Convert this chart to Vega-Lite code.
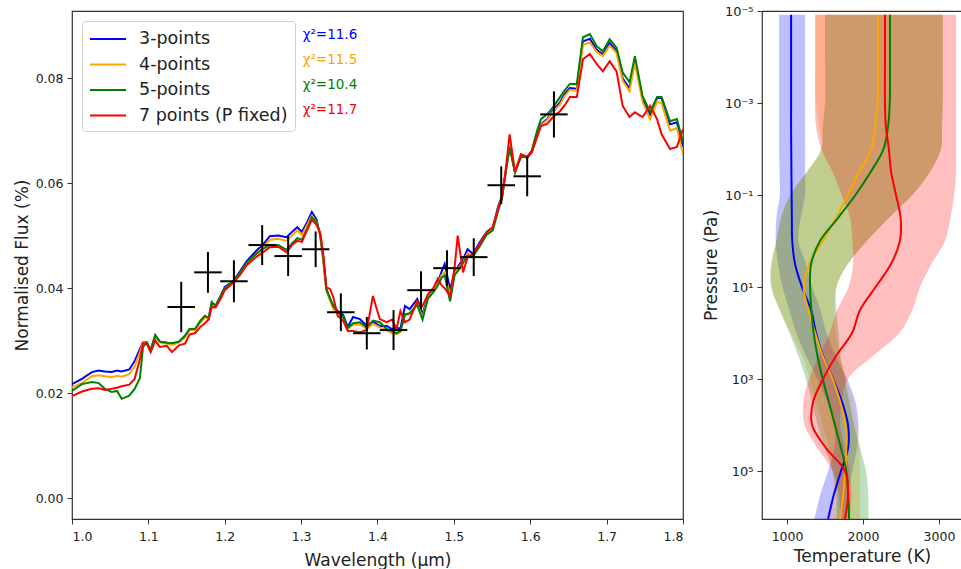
{
"$schema": "https://vega.github.io/schema/vega-lite/v6.json",
"background": "white",
"padding": {"left": 12, "top": 4, "right": 0, "bottom": 0},
"bounds": "flush",
"spacing": 79,
"datasets": {
"spectra": [
{"wl":1.000,"3-points":0.0217,"4-points":0.0211,"5-points":0.0204,"7 points (P fixed)":0.0194},
{"wl":1.013,"3-points":0.0227,"4-points":0.0219,"5-points":0.0217,"7 points (P fixed)":0.0203},
{"wl":1.026,"3-points":0.0240,"4-points":0.0232,"5-points":0.0221,"7 points (P fixed)":0.0208},
{"wl":1.035,"3-points":0.0243,"4-points":0.0234,"5-points":0.0219,"7 points (P fixed)":0.0209},
{"wl":1.043,"3-points":0.0241,"4-points":0.0232,"5-points":0.0208,"7 points (P fixed)":0.0206},
{"wl":1.052,"3-points":0.0240,"4-points":0.0230,"5-points":0.0202,"7 points (P fixed)":0.0208},
{"wl":1.059,"3-points":0.0243,"4-points":0.0233,"5-points":0.0204,"7 points (P fixed)":0.0210},
{"wl":1.065,"3-points":0.0241,"4-points":0.0231,"5-points":0.0189,"7 points (P fixed)":0.0213},
{"wl":1.075,"3-points":0.0245,"4-points":0.0236,"5-points":0.0195,"7 points (P fixed)":0.0216},
{"wl":1.082,"3-points":0.0261,"4-points":0.0251,"5-points":0.0208,"7 points (P fixed)":0.0227},
{"wl":1.089,"3-points":0.0284,"4-points":0.0278,"5-points":0.0229,"7 points (P fixed)":0.0265},
{"wl":1.093,"3-points":0.0297,"4-points":0.0297,"5-points":0.0288,"7 points (P fixed)":0.0295},
{"wl":1.098,"3-points":0.0297,"4-points":0.0296,"5-points":0.0296,"7 points (P fixed)":0.0294},
{"wl":1.103,"3-points":0.0281,"4-points":0.0282,"5-points":0.0282,"7 points (P fixed)":0.0278},
{"wl":1.109,"3-points":0.0310,"4-points":0.0308,"5-points":0.0310,"7 points (P fixed)":0.0300},
{"wl":1.115,"3-points":0.0298,"4-points":0.0296,"5-points":0.0298,"7 points (P fixed)":0.0288},
{"wl":1.124,"3-points":0.0296,"4-points":0.0294,"5-points":0.0296,"7 points (P fixed)":0.0290},
{"wl":1.131,"3-points":0.0294,"4-points":0.0292,"5-points":0.0295,"7 points (P fixed)":0.0278},
{"wl":1.140,"3-points":0.0298,"4-points":0.0296,"5-points":0.0298,"7 points (P fixed)":0.0291},
{"wl":1.148,"3-points":0.0309,"4-points":0.0306,"5-points":0.0309,"7 points (P fixed)":0.0294},
{"wl":1.154,"3-points":0.0322,"4-points":0.0320,"5-points":0.0322,"7 points (P fixed)":0.0312},
{"wl":1.161,"3-points":0.0321,"4-points":0.0320,"5-points":0.0322,"7 points (P fixed)":0.0314},
{"wl":1.168,"3-points":0.0337,"4-points":0.0334,"5-points":0.0337,"7 points (P fixed)":0.0326},
{"wl":1.174,"3-points":0.0347,"4-points":0.0344,"5-points":0.0347,"7 points (P fixed)":0.0333},
{"wl":1.179,"3-points":0.0343,"4-points":0.0341,"5-points":0.0343,"7 points (P fixed)":0.0340},
{"wl":1.183,"3-points":0.0373,"4-points":0.0370,"5-points":0.0373,"7 points (P fixed)":0.0364},
{"wl":1.188,"3-points":0.0366,"4-points":0.0364,"5-points":0.0366,"7 points (P fixed)":0.0363},
{"wl":1.194,"3-points":0.0383,"4-points":0.0381,"5-points":0.0383,"7 points (P fixed)":0.0378},
{"wl":1.200,"3-points":0.0402,"4-points":0.0400,"5-points":0.0400,"7 points (P fixed)":0.0396},
{"wl":1.211,"3-points":0.0413,"4-points":0.0411,"5-points":0.0413,"7 points (P fixed)":0.0410},
{"wl":1.220,"3-points":0.0432,"4-points":0.0428,"5-points":0.0430,"7 points (P fixed)":0.0425},
{"wl":1.229,"3-points":0.0452,"4-points":0.0447,"5-points":0.0449,"7 points (P fixed)":0.0444},
{"wl":1.242,"3-points":0.0472,"4-points":0.0466,"5-points":0.0466,"7 points (P fixed)":0.0460},
{"wl":1.249,"3-points":0.0481,"4-points":0.0476,"5-points":0.0474,"7 points (P fixed)":0.0467},
{"wl":1.259,"3-points":0.0499,"4-points":0.0492,"5-points":0.0482,"7 points (P fixed)":0.0478},
{"wl":1.270,"3-points":0.0500,"4-points":0.0494,"5-points":0.0482,"7 points (P fixed)":0.0479},
{"wl":1.281,"3-points":0.0497,"4-points":0.0490,"5-points":0.0473,"7 points (P fixed)":0.0468},
{"wl":1.288,"3-points":0.0507,"4-points":0.0500,"5-points":0.0485,"7 points (P fixed)":0.0482},
{"wl":1.295,"3-points":0.0516,"4-points":0.0510,"5-points":0.0495,"7 points (P fixed)":0.0490},
{"wl":1.301,"3-points":0.0507,"4-points":0.0501,"5-points":0.0492,"7 points (P fixed)":0.0488},
{"wl":1.308,"3-points":0.0526,"4-points":0.0521,"5-points":0.0513,"7 points (P fixed)":0.0511},
{"wl":1.314,"3-points":0.0545,"4-points":0.0538,"5-points":0.0535,"7 points (P fixed)":0.0530},
{"wl":1.320,"3-points":0.0531,"4-points":0.0527,"5-points":0.0527,"7 points (P fixed)":0.0521},
{"wl":1.325,"3-points":0.0500,"4-points":0.0498,"5-points":0.0503,"7 points (P fixed)":0.0505},
{"wl":1.329,"3-points":0.0455,"4-points":0.0452,"5-points":0.0458,"7 points (P fixed)":0.0465},
{"wl":1.333,"3-points":0.0398,"4-points":0.0395,"5-points":0.0398,"7 points (P fixed)":0.0402},
{"wl":1.338,"3-points":0.0379,"4-points":0.0375,"5-points":0.0380,"7 points (P fixed)":0.0398},
{"wl":1.342,"3-points":0.0366,"4-points":0.0360,"5-points":0.0366,"7 points (P fixed)":0.0383},
{"wl":1.348,"3-points":0.0356,"4-points":0.0350,"5-points":0.0355,"7 points (P fixed)":0.0347},
{"wl":1.355,"3-points":0.0349,"4-points":0.0342,"5-points":0.0346,"7 points (P fixed)":0.0338},
{"wl":1.361,"3-points":0.0326,"4-points":0.0322,"5-points":0.0324,"7 points (P fixed)":0.0318},
{"wl":1.368,"3-points":0.0345,"4-points":0.0330,"5-points":0.0333,"7 points (P fixed)":0.0318},
{"wl":1.377,"3-points":0.0341,"4-points":0.0331,"5-points":0.0335,"7 points (P fixed)":0.0316},
{"wl":1.386,"3-points":0.0328,"4-points":0.0322,"5-points":0.0325,"7 points (P fixed)":0.0320},
{"wl":1.394,"3-points":0.0336,"4-points":0.0332,"5-points":0.0338,"7 points (P fixed)":0.0385},
{"wl":1.403,"3-points":0.0328,"4-points":0.0325,"5-points":0.0335,"7 points (P fixed)":0.0341},
{"wl":1.412,"3-points":0.0328,"4-points":0.0320,"5-points":0.0322,"7 points (P fixed)":0.0335},
{"wl":1.419,"3-points":0.0322,"4-points":0.0314,"5-points":0.0318,"7 points (P fixed)":0.0340},
{"wl":1.425,"3-points":0.0325,"4-points":0.0312,"5-points":0.0314,"7 points (P fixed)":0.0322},
{"wl":1.430,"3-points":0.0322,"4-points":0.0316,"5-points":0.0318,"7 points (P fixed)":0.0356},
{"wl":1.436,"3-points":0.0366,"4-points":0.0348,"5-points":0.0350,"7 points (P fixed)":0.0335},
{"wl":1.442,"3-points":0.0360,"4-points":0.0350,"5-points":0.0352,"7 points (P fixed)":0.0340},
{"wl":1.452,"3-points":0.0379,"4-points":0.0370,"5-points":0.0368,"7 points (P fixed)":0.0375},
{"wl":1.459,"3-points":0.0350,"4-points":0.0345,"5-points":0.0340,"7 points (P fixed)":0.0366},
{"wl":1.466,"3-points":0.0385,"4-points":0.0382,"5-points":0.0380,"7 points (P fixed)":0.0388},
{"wl":1.473,"3-points":0.0398,"4-points":0.0395,"5-points":0.0392,"7 points (P fixed)":0.0400},
{"wl":1.479,"3-points":0.0411,"4-points":0.0408,"5-points":0.0405,"7 points (P fixed)":0.0418},
{"wl":1.484,"3-points":0.0432,"4-points":0.0425,"5-points":0.0420,"7 points (P fixed)":0.0405},
{"wl":1.488,"3-points":0.0446,"4-points":0.0430,"5-points":0.0424,"7 points (P fixed)":0.0400},
{"wl":1.495,"3-points":0.0398,"4-points":0.0385,"5-points":0.0375,"7 points (P fixed)":0.0385},
{"wl":1.501,"3-points":0.0430,"4-points":0.0428,"5-points":0.0425,"7 points (P fixed)":0.0440},
{"wl":1.505,"3-points":0.0440,"4-points":0.0436,"5-points":0.0432,"7 points (P fixed)":0.0500},
{"wl":1.512,"3-points":0.0455,"4-points":0.0450,"5-points":0.0448,"7 points (P fixed)":0.0430},
{"wl":1.518,"3-points":0.0474,"4-points":0.0466,"5-points":0.0462,"7 points (P fixed)":0.0459},
{"wl":1.525,"3-points":0.0465,"4-points":0.0462,"5-points":0.0460,"7 points (P fixed)":0.0465},
{"wl":1.534,"3-points":0.0488,"4-points":0.0484,"5-points":0.0480,"7 points (P fixed)":0.0484},
{"wl":1.543,"3-points":0.0507,"4-points":0.0505,"5-points":0.0502,"7 points (P fixed)":0.0507},
{"wl":1.551,"3-points":0.0516,"4-points":0.0514,"5-points":0.0510,"7 points (P fixed)":0.0516},
{"wl":1.558,"3-points":0.0556,"4-points":0.0552,"5-points":0.0548,"7 points (P fixed)":0.0552},
{"wl":1.563,"3-points":0.0575,"4-points":0.0572,"5-points":0.0570,"7 points (P fixed)":0.0575},
{"wl":1.567,"3-points":0.0613,"4-points":0.0612,"5-points":0.0612,"7 points (P fixed)":0.0615},
{"wl":1.573,"3-points":0.0670,"4-points":0.0672,"5-points":0.0668,"7 points (P fixed)":0.0693},
{"wl":1.580,"3-points":0.0621,"4-points":0.0621,"5-points":0.0621,"7 points (P fixed)":0.0621},
{"wl":1.588,"3-points":0.0655,"4-points":0.0655,"5-points":0.0650,"7 points (P fixed)":0.0655},
{"wl":1.596,"3-points":0.0648,"4-points":0.0650,"5-points":0.0650,"7 points (P fixed)":0.0650},
{"wl":1.602,"3-points":0.0659,"4-points":0.0660,"5-points":0.0662,"7 points (P fixed)":0.0659},
{"wl":1.609,"3-points":0.0692,"4-points":0.0690,"5-points":0.0700,"7 points (P fixed)":0.0688},
{"wl":1.614,"3-points":0.0712,"4-points":0.0710,"5-points":0.0722,"7 points (P fixed)":0.0709},
{"wl":1.622,"3-points":0.0722,"4-points":0.0720,"5-points":0.0731,"7 points (P fixed)":0.0713},
{"wl":1.630,"3-points":0.0739,"4-points":0.0736,"5-points":0.0745,"7 points (P fixed)":0.0726},
{"wl":1.639,"3-points":0.0754,"4-points":0.0750,"5-points":0.0764,"7 points (P fixed)":0.0737},
{"wl":1.645,"3-points":0.0770,"4-points":0.0766,"5-points":0.0777,"7 points (P fixed)":0.0748},
{"wl":1.652,"3-points":0.0781,"4-points":0.0778,"5-points":0.0789,"7 points (P fixed)":0.0764},
{"wl":1.661,"3-points":0.0780,"4-points":0.0776,"5-points":0.0789,"7 points (P fixed)":0.0764},
{"wl":1.669,"3-points":0.0870,"4-points":0.0864,"5-points":0.0878,"7 points (P fixed)":0.0836},
{"wl":1.678,"3-points":0.0875,"4-points":0.0868,"5-points":0.0884,"7 points (P fixed)":0.0846},
{"wl":1.687,"3-points":0.0854,"4-points":0.0850,"5-points":0.0861,"7 points (P fixed)":0.0827},
{"wl":1.695,"3-points":0.0845,"4-points":0.0842,"5-points":0.0851,"7 points (P fixed)":0.0813},
{"wl":1.704,"3-points":0.0867,"4-points":0.0862,"5-points":0.0874,"7 points (P fixed)":0.0832},
{"wl":1.713,"3-points":0.0852,"4-points":0.0848,"5-points":0.0858,"7 points (P fixed)":0.0813},
{"wl":1.721,"3-points":0.0800,"4-points":0.0795,"5-points":0.0811,"7 points (P fixed)":0.0747},
{"wl":1.730,"3-points":0.0780,"4-points":0.0775,"5-points":0.0792,"7 points (P fixed)":0.0726},
{"wl":1.737,"3-points":0.0835,"4-points":0.0830,"5-points":0.0842,"7 points (P fixed)":0.0735},
{"wl":1.747,"3-points":0.0760,"4-points":0.0755,"5-points":0.0766,"7 points (P fixed)":0.0726},
{"wl":1.757,"3-points":0.0730,"4-points":0.0722,"5-points":0.0735,"7 points (P fixed)":0.0747},
{"wl":1.766,"3-points":0.0762,"4-points":0.0755,"5-points":0.0764,"7 points (P fixed)":0.0722},
{"wl":1.772,"3-points":0.0762,"4-points":0.0752,"5-points":0.0764,"7 points (P fixed)":0.0693},
{"wl":1.783,"3-points":0.0712,"4-points":0.0700,"5-points":0.0718,"7 points (P fixed)":0.0665},
{"wl":1.792,"3-points":0.0716,"4-points":0.0705,"5-points":0.0722,"7 points (P fixed)":0.0669},
{"wl":1.800,"3-points":0.0670,"4-points":0.0655,"5-points":0.0678,"7 points (P fixed)":0.0703}
],
"obs": [
{"wl":1.143,"flux":0.0364,"wlerr":0.018,"ferr":0.0048},
{"wl":1.178,"flux":0.0430,"wlerr":0.018,"ferr":0.0039},
{"wl":1.212,"flux":0.0413,"wlerr":0.018,"ferr":0.0040},
{"wl":1.249,"flux":0.0482,"wlerr":0.018,"ferr":0.0038},
{"wl":1.283,"flux":0.0461,"wlerr":0.018,"ferr":0.0038},
{"wl":1.319,"flux":0.0474,"wlerr":0.018,"ferr":0.0034},
{"wl":1.352,"flux":0.0354,"wlerr":0.018,"ferr":0.0036},
{"wl":1.386,"flux":0.0314,"wlerr":0.018,"ferr":0.0031},
{"wl":1.421,"flux":0.0320,"wlerr":0.018,"ferr":0.0038},
{"wl":1.457,"flux":0.0396,"wlerr":0.018,"ferr":0.0036},
{"wl":1.491,"flux":0.0438,"wlerr":0.018,"ferr":0.0034},
{"wl":1.526,"flux":0.0459,"wlerr":0.018,"ferr":0.0036},
{"wl":1.562,"flux":0.0596,"wlerr":0.018,"ferr":0.0036},
{"wl":1.596,"flux":0.0613,"wlerr":0.018,"ferr":0.0038},
{"wl":1.631,"flux":0.0731,"wlerr":0.018,"ferr":0.0044}
],
"chi": [
{"model":"3-points","label":"χ²=11.6","wl":1.302,"flux":0.0882},
{"model":"4-points","label":"χ²=11.5","wl":1.302,"flux":0.0834},
{"model":"5-points","label":"χ²=10.4","wl":1.302,"flux":0.0787},
{"model":"7 points (P fixed)","label":"χ²=11.7","wl":1.302,"flux":0.0739}
],
"tp": [
{"model":"3-points","P":1.2e-5,"T":1053,"lo":895,"hi":1237},
{"model":"3-points","P":1e-4,"T":1053,"lo":895,"hi":1237},
{"model":"3-points","P":1e-3,"T":1053,"lo":895,"hi":1237},
{"model":"3-points","P":3.162e-3,"T":1053,"lo":895,"hi":1237},
{"model":"3-points","P":1e-2,"T":1055,"lo":895,"hi":1237},
{"model":"3-points","P":3.162e-2,"T":1057,"lo":900,"hi":1238},
{"model":"3-points","P":0.1,"T":1060,"lo":905,"hi":1237},
{"model":"3-points","P":0.3162,"T":1063,"lo":860,"hi":1180},
{"model":"3-points","P":1,"T":1068,"lo":850,"hi":1150},
{"model":"3-points","P":3.162,"T":1105,"lo":880,"hi":1250},
{"model":"3-points","P":10,"T":1197,"lo":940,"hi":1330},
{"model":"3-points","P":31.62,"T":1316,"lo":1030,"hi":1440},
{"model":"3-points","P":100,"T":1382,"lo":1120,"hi":1520},
{"model":"3-points","P":316.2,"T":1474,"lo":1250,"hi":1640},
{"model":"3-points","P":1000,"T":1605,"lo":1400,"hi":1790},
{"model":"3-points","P":3162,"T":1724,"lo":1530,"hi":1900},
{"model":"3-points","P":10000,"T":1803,"lo":1620,"hi":1940},
{"model":"3-points","P":31623,"T":1803,"lo":1620,"hi":1920},
{"model":"3-points","P":100000,"T":1710,"lo":1540,"hi":1860},
{"model":"3-points","P":316228,"T":1618,"lo":1440,"hi":1800},
{"model":"3-points","P":1100000,"T":1540,"lo":1360,"hi":1760},
{"model":"4-points","P":1.2e-5,"T":2197,"lo":1380,"hi":3050},
{"model":"4-points","P":1e-4,"T":2197,"lo":1380,"hi":3050},
{"model":"4-points","P":1e-3,"T":2192,"lo":1380,"hi":3050},
{"model":"4-points","P":3.162e-3,"T":2160,"lo":1420,"hi":3040},
{"model":"4-points","P":1e-2,"T":2110,"lo":1450,"hi":3026},
{"model":"4-points","P":3.162e-2,"T":1950,"lo":1260,"hi":2880},
{"model":"4-points","P":0.1,"T":1800,"lo":1040,"hi":2650},
{"model":"4-points","P":0.3162,"T":1645,"lo":920,"hi":2340},
{"model":"4-points","P":1,"T":1470,"lo":860,"hi":2050},
{"model":"4-points","P":3.162,"T":1290,"lo":800,"hi":1800},
{"model":"4-points","P":10,"T":1220,"lo":800,"hi":1650},
{"model":"4-points","P":31.62,"T":1280,"lo":910,"hi":1620},
{"model":"4-points","P":100,"T":1370,"lo":1050,"hi":1640},
{"model":"4-points","P":316.2,"T":1470,"lo":1200,"hi":1700},
{"model":"4-points","P":1000,"T":1600,"lo":1300,"hi":1780},
{"model":"4-points","P":3162,"T":1700,"lo":1380,"hi":1860},
{"model":"4-points","P":10000,"T":1770,"lo":1470,"hi":1920},
{"model":"4-points","P":31623,"T":1780,"lo":1550,"hi":1960},
{"model":"4-points","P":100000,"T":1765,"lo":1600,"hi":1960},
{"model":"4-points","P":316228,"T":1740,"lo":1600,"hi":1960},
{"model":"4-points","P":1100000,"T":1700,"lo":1580,"hi":1960},
{"model":"5-points","P":1.2e-5,"T":2355,"lo":1500,"hi":3050},
{"model":"5-points","P":1e-4,"T":2355,"lo":1500,"hi":3050},
{"model":"5-points","P":1e-3,"T":2352,"lo":1500,"hi":3050},
{"model":"5-points","P":3.162e-3,"T":2330,"lo":1470,"hi":3040},
{"model":"5-points","P":1e-2,"T":2270,"lo":1450,"hi":3026},
{"model":"5-points","P":3.162e-2,"T":2100,"lo":1260,"hi":2880},
{"model":"5-points","P":0.1,"T":1900,"lo":1040,"hi":2650},
{"model":"5-points","P":0.3162,"T":1670,"lo":920,"hi":2340},
{"model":"5-points","P":1,"T":1434,"lo":860,"hi":2050},
{"model":"5-points","P":3.162,"T":1316,"lo":790,"hi":1800},
{"model":"5-points","P":10,"T":1303,"lo":790,"hi":1650},
{"model":"5-points","P":31.62,"T":1320,"lo":900,"hi":1650},
{"model":"5-points","P":100,"T":1350,"lo":1030,"hi":1680},
{"model":"5-points","P":316.2,"T":1400,"lo":1150,"hi":1700},
{"model":"5-points","P":1000,"T":1470,"lo":1250,"hi":1760},
{"model":"5-points","P":3162,"T":1550,"lo":1330,"hi":1820},
{"model":"5-points","P":10000,"T":1630,"lo":1400,"hi":1880},
{"model":"5-points","P":31623,"T":1710,"lo":1500,"hi":1960},
{"model":"5-points","P":100000,"T":1780,"lo":1600,"hi":2040},
{"model":"5-points","P":316228,"T":1805,"lo":1650,"hi":2070},
{"model":"5-points","P":1100000,"T":1816,"lo":1650,"hi":2070},
{"model":"7 points (P fixed)","P":1.2e-5,"T":2289,"lo":1368,"hi":3224},
{"model":"7 points (P fixed)","P":1e-4,"T":2289,"lo":1368,"hi":3224},
{"model":"7 points (P fixed)","P":1e-3,"T":2289,"lo":1368,"hi":3224},
{"model":"7 points (P fixed)","P":3.162e-3,"T":2300,"lo":1380,"hi":3224},
{"model":"7 points (P fixed)","P":1e-2,"T":2340,"lo":1450,"hi":3224},
{"model":"7 points (P fixed)","P":3.162e-2,"T":2370,"lo":1600,"hi":3224},
{"model":"7 points (P fixed)","P":0.1,"T":2434,"lo":1720,"hi":3200},
{"model":"7 points (P fixed)","P":0.3162,"T":2495,"lo":1830,"hi":3150},
{"model":"7 points (P fixed)","P":1,"T":2485,"lo":1860,"hi":3080},
{"model":"7 points (P fixed)","P":3.162,"T":2368,"lo":1870,"hi":2900},
{"model":"7 points (P fixed)","P":10,"T":2165,"lo":1810,"hi":2750},
{"model":"7 points (P fixed)","P":31.62,"T":1960,"lo":1660,"hi":2650},
{"model":"7 points (P fixed)","P":100,"T":1855,"lo":1560,"hi":2480},
{"model":"7 points (P fixed)","P":316.2,"T":1645,"lo":1420,"hi":2130},
{"model":"7 points (P fixed)","P":1000,"T":1474,"lo":1290,"hi":1800},
{"model":"7 points (P fixed)","P":3162,"T":1342,"lo":1215,"hi":1720},
{"model":"7 points (P fixed)","P":10000,"T":1329,"lo":1230,"hi":1700},
{"model":"7 points (P fixed)","P":31623,"T":1513,"lo":1400,"hi":1760},
{"model":"7 points (P fixed)","P":100000,"T":1763,"lo":1600,"hi":1820},
{"model":"7 points (P fixed)","P":316228,"T":1803,"lo":1680,"hi":1850},
{"model":"7 points (P fixed)","P":1100000,"T":1763,"lo":1700,"hi":1820}
]
},
"hconcat": [
{
"width": 611, "height": 508,
"layer": [
{"data": {"name": "spectra"},
 "transform": [{"fold": ["3-points","4-points","5-points","7 points (P fixed)"], "as": ["model","flux"]}],
 "mark": {"type": "line", "strokeWidth": 2, "clip": true},
 "encoding": {
  "x": {"field": "wl", "type": "quantitative", "title": "Wavelength (μm)", "scale": {"domain": [1.0, 1.8], "nice": false, "zero": false},
        "axis": {"values": [1.0,1.1,1.2,1.3,1.4,1.5,1.6,1.7,1.8], "format": ".1f", "labelPadding": 6, "titlePadding": 10}},
  "y": {"field": "flux", "type": "quantitative", "title": "Normalised Flux (%)", "scale": {"domain": [-0.004, 0.0928], "nice": false, "zero": false},
        "axis": {"values": [0,0.02,0.04,0.06,0.08], "format": ".2f"}},
  "color": {"field": "model", "type": "nominal",
            "scale": {"domain": ["3-points","4-points","5-points","7 points (P fixed)"], "range": ["#0000ff","#ffa500","#008000","#ff0000"]},
            "legend": {"title": null, "orient": "top-left", "offset": 10, "symbolType": "M-1.8,0H1.8", "symbolSize": 400, "symbolStrokeWidth": 2,
                       "labelFontSize": 17.5, "labelColor": "#222", "strokeColor": "#d0d0d0", "fillColor": "white", "padding": 7,
                       "cornerRadius": 3, "rowPadding": 5.5, "labelOffset": 20, "symbolOffset": 8}}
 }},
{"data": {"name": "obs"},
 "mark": {"type": "errorbar", "color": "black", "thickness": 2},
 "encoding": {
  "x": {"field": "wl", "type": "quantitative", "title": "Wavelength (μm)"},
  "y": {"field": "flux", "type": "quantitative", "title": "Normalised Flux (%)"},
  "yError": {"field": "ferr"}
 }},
{"data": {"name": "obs"},
 "mark": {"type": "errorbar", "color": "black", "thickness": 2},
 "encoding": {
  "y": {"field": "flux", "type": "quantitative", "title": "Normalised Flux (%)"},
  "x": {"field": "wl", "type": "quantitative", "title": "Wavelength (μm)"},
  "xError": {"field": "wlerr"}
 }},
{"data": {"name": "chi"},
 "mark": {"type": "text", "align": "left", "baseline": "middle", "fontSize": 13.5},
 "encoding": {
  "x": {"field": "wl", "type": "quantitative", "title": "Wavelength (μm)"},
  "y": {"field": "flux", "type": "quantitative", "title": "Normalised Flux (%)"},
  "text": {"field": "label"},
  "color": {"field": "model", "type": "nominal", "legend": null}
 }}
]
},
{
"width": 200, "height": 508,
"data": {"name": "tp"},
"layer": [
{"mark": {"type": "area", "orient": "horizontal", "opacity": 0.25, "interpolate": "catmull-rom", "clip": true},
 "encoding": {
  "y": {"field": "P", "type": "quantitative", "title": "Pressure (Pa)", "scale": {"type": "log", "domain": [1e-5, 1.1e6], "reverse": true, "nice": false},
        "axis": {"values": [1e-5,1e-3,1e-1,10,1000,100000], "labelFontSize": 13,
                 "labelExpr": "datum.value < 0.0001 ? '10⁻⁵' : datum.value < 0.01 ? '10⁻³' : datum.value < 1 ? '10⁻¹' : datum.value < 100 ? '10¹' : datum.value < 10000 ? '10³' : '10⁵'"}},
  "x": {"field": "lo", "type": "quantitative", "title": "Temperature (K)", "scale": {"domain": [670, 3303], "nice": false, "zero": false},
        "axis": {"values": [1000,2000,3000], "format": "d", "labelPadding": 6, "titlePadding": 6}},
  "x2": {"field": "hi"},
  "color": {"field": "model", "type": "nominal",
            "scale": {"domain": ["3-points","4-points","5-points","7 points (P fixed)"], "range": ["#0000ff","#ffa500","#008000","#ff0000"]},
            "legend": null}
 }},
{"mark": {"type": "line", "strokeWidth": 2, "interpolate": "catmull-rom", "clip": true},
 "encoding": {
  "y": {"field": "P", "type": "quantitative", "title": "Pressure (Pa)"},
  "x": {"field": "T", "type": "quantitative", "title": "Temperature (K)"},
  "order": {"field": "P", "type": "quantitative"},
  "color": {"field": "model", "type": "nominal", "legend": null}
 }}
]
}
],
"resolve": {"scale": {"color": "independent"}},
"config": {
 "font": "DejaVu Sans",
 "view": {"stroke": "#333", "strokeWidth": 1.2},
 "axis": {"grid": false, "domain": false, "tickColor": "#333", "tickSize": 5, "labelFontSize": 12.5, "labelColor": "#222",
          "titleFontSize": 17, "titleFontWeight": "normal", "titleColor": "#222", "labelPadding": 4}
}
}
